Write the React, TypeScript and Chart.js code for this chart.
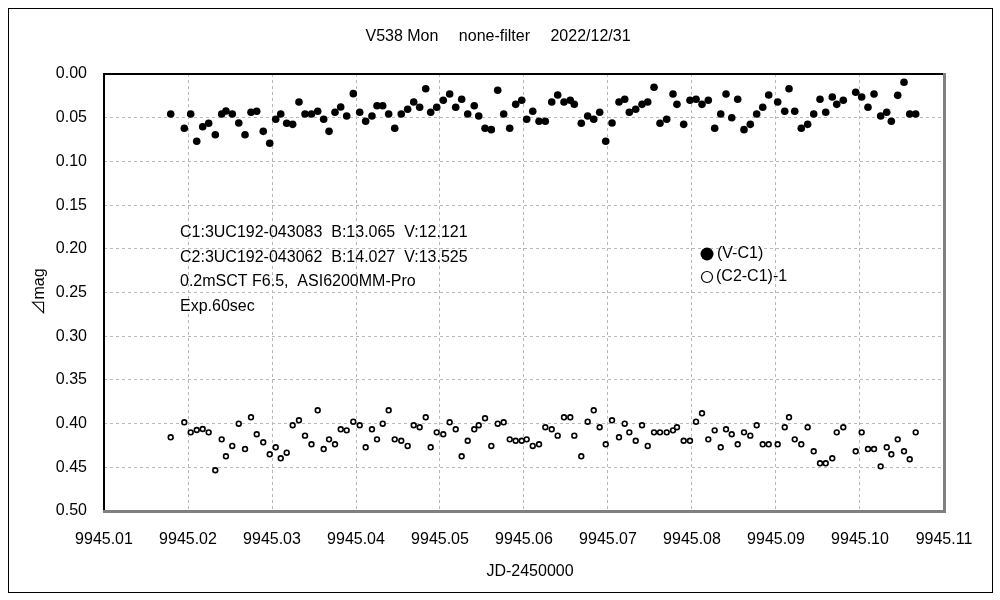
import React, { useEffect, useRef } from "react";
import { Chart, registerables } from "chart.js";

Chart.register(...registerables);

// JD-2450000 of each observation (shared by both series)
const jd: number[] = [
  9945.01794, 9945.01956, 9945.02032, 9945.02104, 9945.02175, 9945.02246, 9945.02325, 9945.02401, 9945.02452, 9945.02527,
  9945.02604, 9945.02679, 9945.0275, 9945.02818, 9945.02896, 9945.02973, 9945.03044, 9945.03104, 9945.03175, 9945.03246,
  9945.03321, 9945.03393, 9945.0347, 9945.03544, 9945.03615, 9945.03679, 9945.0375, 9945.03818, 9945.03889, 9945.03968,
  9945.04044, 9945.04115, 9945.0419, 9945.0425, 9945.04318, 9945.04389, 9945.04461, 9945.04539, 9945.04615, 9945.04687,
  9945.04758, 9945.0483, 9945.04889, 9945.04961, 9945.05039, 9945.05115, 9945.05187, 9945.05258, 9945.0533, 9945.05408,
  9945.05461, 9945.05536, 9945.05611, 9945.05687, 9945.05758, 9945.0583, 9945.05901, 9945.05973, 9945.06032, 9945.06104,
  9945.06179, 9945.06254, 9945.0633, 9945.06401, 9945.06476, 9945.06551, 9945.06599, 9945.06682, 9945.06758, 9945.0683,
  9945.06901, 9945.06973, 9945.07048, 9945.07131, 9945.07199, 9945.07254, 9945.0733, 9945.07405, 9945.07473, 9945.07548,
  9945.07619, 9945.07699, 9945.07774, 9945.07821, 9945.07901, 9945.07976, 9945.08048, 9945.08119, 9945.08194, 9945.0827,
  9945.08342, 9945.08405, 9945.08473, 9945.08544, 9945.08619, 9945.08694, 9945.0877, 9945.08842, 9945.08913, 9945.0902,
  9945.09104, 9945.09155, 9945.09223, 9945.09301, 9945.09377, 9945.09449, 9945.09524, 9945.09592, 9945.0967, 9945.09723,
  9945.09801, 9945.09949, 9945.1002, 9945.10095, 9945.10167, 9945.10246, 9945.10318, 9945.10373, 9945.10449, 9945.10524,
  9945.10592, 9945.10663,
];

// (V-C1) delta mag
const vMinusC1: number[] = [
  0.0458, 0.0621, 0.0458, 0.077, 0.0603, 0.0564, 0.0695, 0.0458, 0.0423, 0.0458,
  0.0561, 0.0695, 0.0438, 0.0427, 0.0656, 0.0793, 0.0518, 0.0458, 0.0564, 0.0576,
  0.032, 0.0458, 0.0458, 0.0427, 0.0518, 0.0656, 0.0438, 0.0378, 0.0481, 0.0225,
  0.0438, 0.0541, 0.0481, 0.0363, 0.0363, 0.0458, 0.0621, 0.0458, 0.0404, 0.032,
  0.0381, 0.0168, 0.0438, 0.0381, 0.0301, 0.0229, 0.0381, 0.0289, 0.0458, 0.0363,
  0.0481, 0.0621, 0.0637, 0.0186, 0.0458, 0.0621, 0.0347, 0.0301, 0.0518, 0.0427,
  0.0541, 0.0541, 0.032, 0.024, 0.032, 0.0301, 0.0347, 0.0564, 0.0481, 0.0518,
  0.0438, 0.077, 0.0561, 0.032, 0.0289, 0.0438, 0.0404, 0.0347, 0.032, 0.0152,
  0.0564, 0.0518, 0.0229, 0.0347, 0.0576, 0.0301, 0.0289, 0.0347, 0.0301, 0.0621,
  0.0458, 0.0229, 0.05, 0.0289, 0.0637, 0.0576, 0.0458, 0.0381, 0.024, 0.032,
  0.0427, 0.0168, 0.0427, 0.0621, 0.0576, 0.0458, 0.0289, 0.0438, 0.0263, 0.0347,
  0.0301, 0.0209, 0.0263, 0.0381, 0.0229, 0.0481, 0.0438, 0.0541, 0.0244, 0.0095,
  0.0458, 0.0458,
];

// (C2-C1)-1 delta mag
const c2MinusC1: number[] = [
  0.4157, 0.3985, 0.41, 0.4073, 0.4062, 0.41, 0.4534, 0.418, 0.4374, 0.4256,
  0.4001, 0.4291, 0.3928, 0.4122, 0.4214, 0.4351, 0.4271, 0.4397, 0.4333, 0.4019,
  0.3962, 0.4138, 0.4237, 0.3848, 0.4291, 0.418, 0.4237, 0.4065, 0.4077, 0.3978,
  0.4019, 0.4271, 0.4065, 0.418, 0.4001, 0.3848, 0.418, 0.4196, 0.4256, 0.4019,
  0.4042, 0.3928, 0.4271, 0.41, 0.4122, 0.3985, 0.4065, 0.4374, 0.4196, 0.4065,
  0.4019, 0.3939, 0.4256, 0.4001, 0.3985, 0.418, 0.4196, 0.4196, 0.418, 0.4256,
  0.4237, 0.4042, 0.4065, 0.4138, 0.3928, 0.3928, 0.4138, 0.4374, 0.3978, 0.3848,
  0.4042, 0.4237, 0.3962, 0.4157, 0.4001, 0.41, 0.4196, 0.4019, 0.4256, 0.41,
  0.41, 0.41, 0.4077, 0.4042, 0.4196, 0.4196, 0.3978, 0.3882, 0.418, 0.4077,
  0.4271, 0.4065, 0.4122, 0.4237, 0.41, 0.4138, 0.4019, 0.4237, 0.4237, 0.4237,
  0.4042, 0.3928, 0.418, 0.4237, 0.4042, 0.4317, 0.4454, 0.4454, 0.4397, 0.41,
  0.4042, 0.4317, 0.41, 0.4291, 0.4291, 0.4489, 0.4271, 0.4351, 0.418, 0.4317,
  0.4408, 0.41,
];

const xTicks: number[] = [9945.01, 9945.02, 9945.03, 9945.04, 9945.05, 9945.06, 9945.07, 9945.08, 9945.09, 9945.1, 9945.11];
const xTickLabels: string[] = ["9945.01", "9945.02", "9945.03", "9945.04", "9945.05", "9945.06", "9945.07", "9945.08", "9945.09", "9945.10", "9945.11"];
const yTicks: number[] = [0, 0.05, 0.1, 0.15, 0.2, 0.25, 0.3, 0.35, 0.4, 0.45, 0.5];
const yTickLabels: string[] = ["0.00", "0.05", "0.10", "0.15", "0.20", "0.25", "0.30", "0.35", "0.40", "0.45", "0.50"];

const seriesNames: string[] = ["(V-C1)", "(C2-C1)-1"];
const titleText = "V538 Mon\u3000 none-filter\u3000 2022/12/31";
const xTitle = "JD-2450000";
const yTitle = "\u22BFmag";
const noteLines: string[] = [
  "C1:3UC192-043083  B:13.065  V:12.121",
  "C2:3UC192-043062  B:14.027  V:13.525",
  "0.2mSCT F6.5,  ASI6200MM-Pro",
  "Exp.60sec",
];

const FONT = "'Liberation Sans', Arial, 'Noto Sans CJK JP', sans-serif";

export default function App() {
  const ref = useRef<HTMLCanvasElement | null>(null);

  useEffect(() => {
    if (!ref.current) return;
    const decor = {
      id: "decor",
      afterDraw(chart: any) {
        const { ctx, chartArea: a } = chart;
        ctx.save();
        // frame of plot area
        ctx.lineCap = "butt";
        ctx.strokeStyle = "#000";
        ctx.lineWidth = 2;
        ctx.beginPath();
        ctx.moveTo(a.left, a.bottom);
        ctx.lineTo(a.left, a.top);
        ctx.lineTo(a.right, a.top);
        ctx.stroke();
        ctx.strokeStyle = "#808080";
        ctx.lineWidth = 3;
        ctx.beginPath();
        ctx.moveTo(a.right + 0.5, a.top - 1);
        ctx.lineTo(a.right + 0.5, a.bottom + 0.5);
        ctx.lineTo(a.left - 1, a.bottom + 0.5);
        ctx.stroke();

        ctx.fillStyle = "#000";
        ctx.font = `16px ${FONT}`;
        ctx.textBaseline = "middle";
        // title
        ctx.textAlign = "center";
        ctx.fillText(titleText, 498, 37);
        // x axis title
        ctx.fillText(xTitle, 530, 572);
        // y axis title
        ctx.save();
        ctx.translate(40, 292);
        ctx.rotate(-Math.PI / 2);
        ctx.fillText(yTitle, 0, 0);
        ctx.restore();
        // notes
        ctx.textAlign = "left";
        noteLines.forEach((t, i) => ctx.fillText(t, 180, 233 + i * 24.5));
        // legend
        ctx.beginPath();
        ctx.arc(707, 254, 6.5, 0, Math.PI * 2);
        ctx.fill();
        ctx.beginPath();
        ctx.lineWidth = 1.2;
        ctx.strokeStyle = "#000";
        ctx.arc(707, 277, 5.5, 0, Math.PI * 2);
        ctx.stroke();
        ctx.fillText(seriesNames[0], 717, 254);
        ctx.fillText(seriesNames[1], 716, 277);
        ctx.restore();
      },
    };

    const chart = new Chart(ref.current, {
      type: "scatter",
      data: {
        datasets: [
          {
            label: seriesNames[0],
            data: jd.map((x, i) => ({ x, y: vMinusC1[i] })),
            pointRadius: 3.8,
            pointBackgroundColor: "#000",
            pointBorderWidth: 0,
            pointBorderColor: "#000",
          },
          {
            label: seriesNames[1],
            data: jd.map((x, i) => ({ x, y: c2MinusC1[i] })),
            pointRadius: 2.4,
            pointBackgroundColor: "#fff",
            pointBorderWidth: 1.6,
            pointBorderColor: "#000",
          },
        ],
      },
      options: {
        animation: false,
        responsive: false,
        maintainAspectRatio: false,
        layout: { padding: { top: 74, right: 56, left: 0, bottom: 0 } },
        plugins: {
          legend: { display: false },
          title: { display: false },
          tooltip: { enabled: false },
        },
        scales: {
          x: {
            type: "linear",
            min: 9945.01,
            max: 9945.11,
            afterBuildTicks: (s: any) => {
              s.ticks = xTicks.map((v) => ({ value: v }));
            },
            afterFit: (s: any) => {
              s.height = 89;
            },
            ticks: {
              autoSkip: false,
              maxRotation: 0,
              minRotation: 0,
              padding: 19,
              color: "#000",
              font: { family: FONT, size: 16 },
              callback: (_v: any, i: number) => xTickLabels[i],
            },
            grid: { color: "#b8b8b8", drawTicks: false, lineWidth: 1 },
            border: { display: false, dash: [3, 3] },
          },
          y: {
            type: "linear",
            reverse: true,
            min: 0,
            max: 0.5,
            afterBuildTicks: (s: any) => {
              s.ticks = yTicks.map((v) => ({ value: v }));
            },
            afterFit: (s: any) => {
              s.width = 104;
            },
            ticks: {
              padding: 17,
              color: "#000",
              font: { family: FONT, size: 16 },
              callback: (_v: any, i: number) => yTickLabels[i],
            },
            grid: { color: "#b8b8b8", drawTicks: false, lineWidth: 1 },
            border: { display: false, dash: [3, 3] },
          },
        },
      },
      plugins: [decor],
    } as any);
    return () => chart.destroy();
  }, []);

  return (
    <div style={{ position: "fixed", left: 0, top: 0, width: 1000, height: 600, background: "#fff" }}>
      <div
        style={{
          position: "absolute",
          left: 8,
          top: 8,
          width: 985,
          height: 585,
          border: "1px solid #000",
          boxSizing: "border-box",
        }}
      />
      <canvas ref={ref} width={1000} height={600} style={{ position: "absolute", left: 0, top: 0 }} />
    </div>
  );
}
